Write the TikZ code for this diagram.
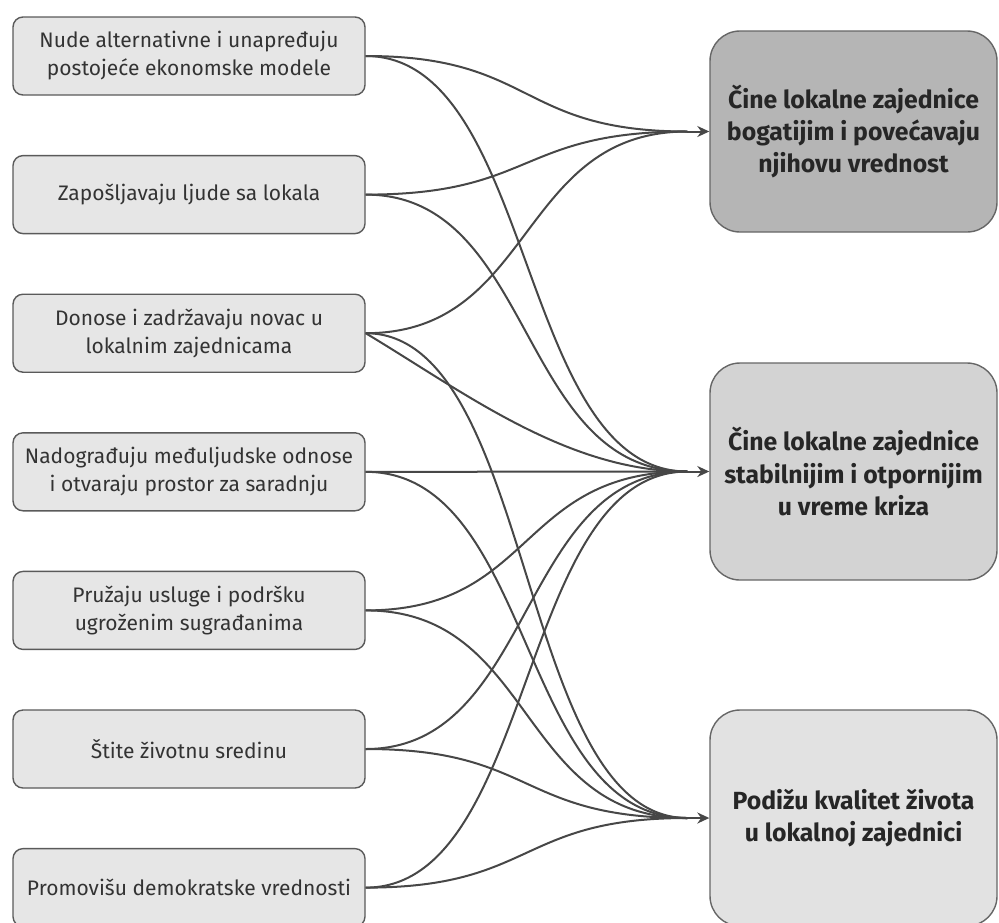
\documentclass[tikz,border=0pt]{standalone}
\usepackage{fontspec}
\setmainfont{Fira Sans}
\usetikzlibrary{calc,arrows.meta}

\definecolor{causefill}{HTML}{E6E6E6}
\definecolor{causeline}{HTML}{5A5A5A}
\definecolor{causetext}{HTML}{333333}
\definecolor{effline}{HTML}{666666}
\definecolor{effA}{HTML}{B5B5B5}
\definecolor{effB}{HTML}{D3D3D3}
\definecolor{effC}{HTML}{E2E2E2}
\definecolor{linkgray}{HTML}{474747}

\begin{document}
\begin{tikzpicture}[x=0.5pt, y=-0.5pt,
	cause/.style={draw=causeline, fill=causefill, rounded corners=5pt,
		line width=0.7pt, minimum width=176pt, minimum height=39pt,
		inner sep=0pt, align=center, text=causetext,
		font=\fontsize{10.5}{14}\selectfont},
	effect/.style={draw=effline, rounded corners=15pt, line width=0.7pt,
		minimum width=143.5pt, inner sep=0pt, align=center, text=black!85,
		font=\bfseries\fontsize{12.4}{16.2}\selectfont},
	link/.style={draw=linkgray, line width=1pt}]

	% ---- parameters

	\def\bend{170}
	\def\gap{22}

	% ---- frame

	\useasboundingbox (0,0) rectangle (999,922);

	% ---- causes

	\node[cause] (l1) at (189,56) {Nude alternativne i unapređuju\\postojeće ekonomske modele};
	\node[cause] (l2) at (189,194.6) {Zapošljavaju ljude sa lokala};
	\node[cause] (l3) at (189,333.2) {Donose i zadržavaju novac u\\lokalnim zajednicama};
	\node[cause] (l4) at (189,471.8) {Nadograđuju međuljudske odnose\\i otvaraju prostor za saradnju};
	\node[cause] (l5) at (189,610.4) {Pružaju usluge i podršku\\ugroženim sugrađanima};
	\node[cause] (l6) at (189,749) {Štite životnu sredinu};
	\node[cause] (l7) at (189,887.6) {Promovišu demokratske vrednosti};

	% ---- effects

	\node[effect, fill=effA, minimum height=100.5pt] (a) at (853.5,131.5)
		{Čine lokalne zajednice\\bogatijim i povećavaju\\njihovu vrednost};
	\node[effect, fill=effB, minimum height=108.5pt] (b) at (853.5,471.5)
		{Čine lokalne zajednice\\stabilnijim i otpornijim\\u vreme kriza};
	\node[effect, fill=effC, minimum height=108pt] (c) at (853.5,818)
		{Podižu kvalitet života\\u lokalnoj zajednici};

	% ---- entry points

	\foreach \t in {a,b,c} {
		\coordinate (in\t) at ($(\t.west)+(-\gap,0)$);
	}

	% ---- curved links

	\foreach \s/\t in {l1/a, l2/a, l3/a, l1/b, l2/b, l4/b, l5/b, l6/b, l7/b,
		l3/c, l4/c, l5/c, l6/c, l7/c} {
		\draw[link] (\s.east) .. controls +(\bend,0) and +(-\bend,0) .. (in\t);
	}

	% flatter one
	\draw[link] (l3.east) .. controls +(100,60) and +(-120,0) .. (inb);

	% ---- arrows

	\foreach \t in {a,b,c} {
		\draw[link, -{Stealth[length=6pt, width=5.5pt]}] (in\t) -- (\t.west);
	}

\end{tikzpicture}
\end{document}
